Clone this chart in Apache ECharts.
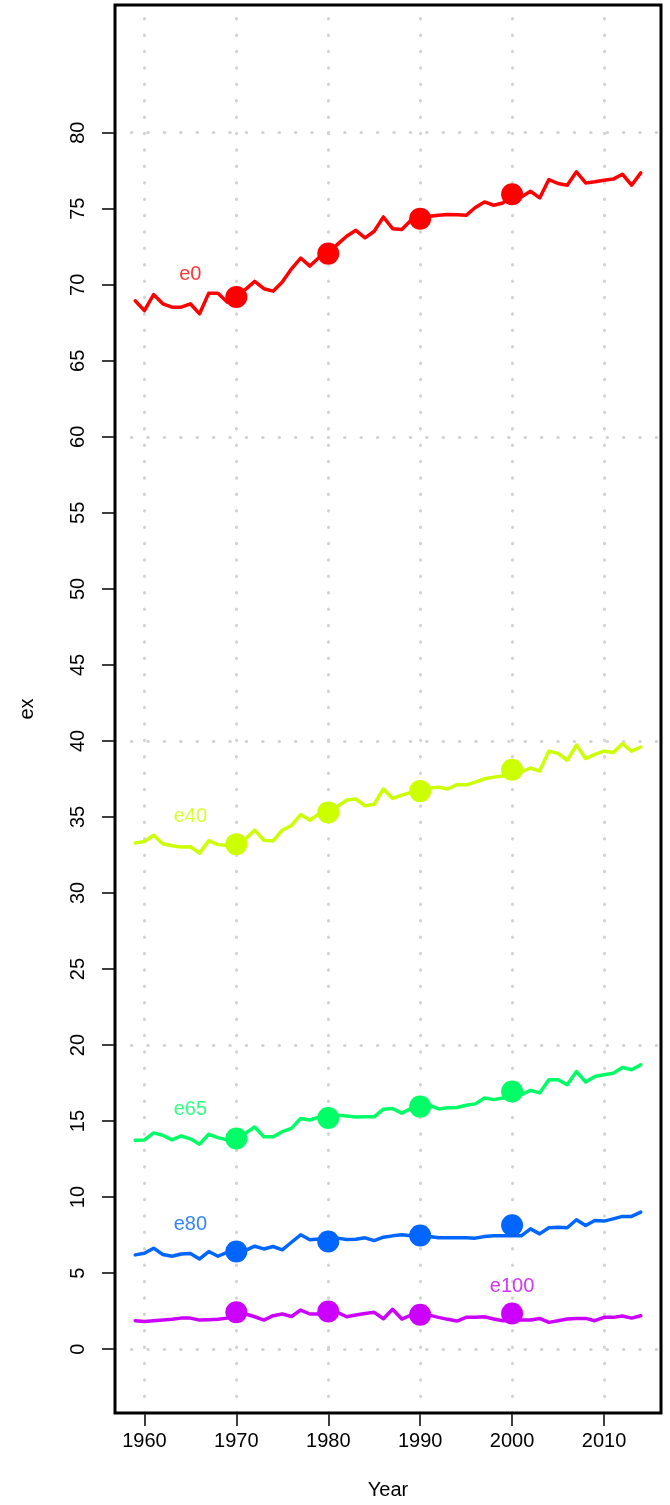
<!DOCTYPE html>
<html>
<head>
<meta charset="utf-8">
<script src="https://cdn.jsdelivr.net/npm/echarts@6/dist/echarts.min.js"></script>
<style>
html,body{margin:0;padding:0;background:#fff;}
#c{width:670px;height:1505px;}
</style>
</head>
<body>
<div id="c"></div>
<script>
const years = [1959,1960,1961,1962,1963,1964,1965,1966,1967,1968,1969,1970,1971,1972,1973,1974,1975,1976,1977,1978,1979,1980,1981,1982,1983,1984,1985,1986,1987,1988,1989,1990,1991,1992,1993,1994,1995,1996,1997,1998,1999,2000,2001,2002,2003,2004,2005,2006,2007,2008,2009,2010,2011,2012,2013,2014];
const e0 = [68.95,68.3,69.36,68.75,68.53,68.53,68.75,68.09,69.45,69.45,68.86,69.19,69.7,70.22,69.74,69.58,70.18,71.05,71.76,71.23,71.8,72.04,72.66,73.19,73.58,73.08,73.52,74.46,73.69,73.63,74.24,74.35,74.5,74.57,74.62,74.6,74.57,75.08,75.45,75.23,75.38,75.96,75.78,76.15,75.71,76.92,76.66,76.55,77.43,76.7,76.77,76.88,76.95,77.27,76.55,77.36];
const e40 = [33.29,33.38,33.8,33.24,33.11,33.02,33.04,32.62,33.44,33.18,33.13,33.13,33.56,34.13,33.47,33.42,34.13,34.44,35.16,34.78,35.22,35.29,35.69,36.11,36.18,35.73,35.84,36.84,36.22,36.44,36.62,36.67,36.91,36.96,36.84,37.13,37.11,37.29,37.51,37.62,37.69,37.8,37.96,38.22,38.02,39.33,39.18,38.73,39.73,38.84,39.11,39.33,39.24,39.82,39.33,39.6];
const e65 = [13.74,13.76,14.22,14.07,13.76,14.02,13.83,13.48,14.13,13.91,13.76,13.85,14.2,14.61,13.96,13.96,14.3,14.52,15.17,15.07,15.26,15.22,15.39,15.33,15.26,15.28,15.28,15.78,15.83,15.52,15.83,15.93,16.04,15.8,15.87,15.89,16.04,16.13,16.52,16.41,16.52,16.63,16.74,17.02,16.85,17.72,17.72,17.39,18.26,17.57,17.93,18.04,18.15,18.52,18.37,18.7];
const e80 = [6.2,6.31,6.64,6.22,6.11,6.26,6.29,5.93,6.42,6.11,6.37,6.44,6.5,6.77,6.59,6.75,6.53,7.03,7.52,7.19,7.25,7.1,7.3,7.21,7.23,7.32,7.14,7.36,7.45,7.52,7.45,7.47,7.41,7.32,7.32,7.32,7.32,7.3,7.41,7.45,7.45,7.45,7.45,7.91,7.58,7.98,8.02,7.98,8.51,8.13,8.46,8.42,8.57,8.73,8.73,9.01];
const e100 = [1.87,1.82,1.87,1.91,1.96,2.04,2.04,1.91,1.93,1.96,2.04,2.26,2.31,2.13,1.91,2.2,2.31,2.15,2.57,2.31,2.31,2.35,2.42,2.13,2.24,2.35,2.42,2.0,2.62,1.98,2.24,2.26,2.24,2.09,1.96,1.85,2.09,2.09,2.13,1.98,1.87,1.91,1.91,1.91,2.02,1.76,1.87,1.98,2.02,2.02,1.87,2.09,2.09,2.18,2.04,2.2];

const dotYears = [1970,1980,1990,2000];
const e0Dots = [69.2,72.05,74.35,75.95];
const e40Dots = [33.2,35.3,36.7,38.1];
const e65Dots = [13.85,15.2,15.95,16.95];
const e80Dots = [6.42,7.08,7.48,8.15];
const e100Dots = [2.42,2.48,2.26,2.35];

const seriesNames = ['e0','e40','e65','e80','e100'];
const seriesColors = ['#FF0000','#CCFF00','#00FF66','#0066FF','#CC00FF'];
const labelYears = [1965,1965,1965,1965,2000];
const labelValues = [70.65,35.0,15.75,8.2,4.1];

const xTicks = [1960,1970,1980,1990,2000,2010];
const yTicks = [0,5,10,15,20,25,30,35,40,45,50,55,60,65,70,75,80];
const yGrid = [0,20,40,60,80];

const lineData = [e0,e40,e65,e80,e100];
const dotData = [e0Dots,e40Dots,e65Dots,e80Dots,e100Dots];

const FONT = 'Liberation Sans, Arial, Helvetica, sans-serif';
const FS = 20;
const gridStyle = {color:'#D3D3D3', width:3, type:[0.5,15.9], cap:'round'};

const series = [];
series.push({
  type:'line', data:[], silent:true, z:1,
  markLine:{
    z:1, silent:true, symbol:['none','none'], label:{show:false},
    lineStyle:gridStyle, animation:false,
    data: xTicks.map(v=>({xAxis:v})).concat(yGrid.map(v=>({yAxis:v})))
  }
});
seriesNames.forEach((n,i)=>{
  series.push({
    name:n, type:'line', z:3,
    data: years.map((y,k)=>[y, lineData[i][k]]),
    showSymbol:false, symbol:'none',
    lineStyle:{color:seriesColors[i], width:3.5, cap:'round', join:'round'},
    itemStyle:{color:seriesColors[i]}
  });
  series.push({
    type:'scatter', z:4,
    data: dotYears.map((y,k)=>[y, dotData[i][k]]),
    symbol:'circle', symbolSize:22,
    itemStyle:{color:seriesColors[i], opacity:1}
  });
  series.push({
    type:'scatter', z:5,
    data:[{value:[labelYears[i], labelValues[i]], name:n}],
    symbolSize:0, itemStyle:{color:'transparent'},
    label:{show:true, position:'inside', formatter:'{b}', color:seriesColors[i], fontSize:FS, fontFamily:FONT}
  });
});

const chart = echarts.init(document.getElementById('c'), null, {renderer:'canvas'});
chart.setOption({
  animation:false,
  backgroundColor:'#ffffff',
  grid:{left:115, right:9, top:5, bottom:90, show:true, borderColor:'#000', borderWidth:3, backgroundColor:'transparent', z:10},
  xAxis:{
    type:'value', min:1956.8, max:2016.2,
    name:'Year', nameLocation:'middle', nameGap:67,
    nameTextStyle:{fontSize:FS, color:'#000', fontFamily:FONT},
    axisLine:{show:false, onZero:false},
    axisTick:{show:true, customValues:xTicks, length:13, lineStyle:{color:'#000', width:1.5}},
    axisLabel:{customValues:xTicks, formatter:v=>String(v), color:'#000', fontSize:FS, fontFamily:FONT, margin:18},
    splitLine:{show:false}
  },
  yAxis:{
    type:'value', min:-4.2, max:88.4,
    name:'ex', nameLocation:'middle', nameGap:78, nameRotate:90,
    nameTextStyle:{fontSize:FS, color:'#000', fontFamily:FONT},
    axisLine:{show:false, onZero:false},
    axisTick:{show:true, customValues:yTicks, length:13, lineStyle:{color:'#000', width:1.5}},
    axisLabel:{customValues:yTicks, rotate:90, color:'#000', fontSize:FS, fontFamily:FONT, margin:27},
    splitLine:{show:false}
  },
  series:series
});
</script>
</body>
</html>
